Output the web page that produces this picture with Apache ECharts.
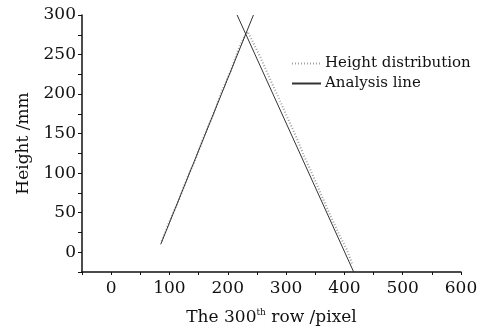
<!DOCTYPE html>
<html>
<head>
<meta charset="utf-8">
<script src="https://cdn.jsdelivr.net/npm/echarts@6/dist/echarts.min.js"></script>
<style>
  html, body { margin: 0; padding: 0; background: #fff; }
  #chart { width: 499px; height: 332px; }
</style>
</head>
<body>
<div id="chart"></div>
<script>
// Measured height profile along the 300th row (pixel, mm)
const heightDistribution = [
  [87, 14], [100, 39], [115, 64], [130, 93], [145, 118], [160, 148],
  [175, 174], [190, 204], [205, 229], [218, 256], [228, 272], [234, 279],
  [241, 269], [255, 248], [270, 223], [285, 199], [300, 174], [315, 150],
  [330, 123], [345, 99], [360, 73], [375, 48], [390, 24], [405, 2], [414, -16]
];
// Two fitted straight lines (rising flank and falling flank)
const analysisRising = [[85, 10], [244, 300]];
const analysisFalling = [[216, 300], [416, -25]];

const xTicks = { min: -50, max: 600, step: 50, labelStep: 100 };
const yTicks = { min: -25, max: 300, step: 25, labelStep: 50 };

const serif = 'DejaVu Serif';
const chart = echarts.init(document.getElementById('chart'), null, { renderer: 'canvas' });

chart.setOption({
  animation: false,
  backgroundColor: '#fff',
  grid: { left: 82, right: 38, top: 15, bottom: 60 },
  legend: {
    left: 286, top: 51, orient: 'vertical', itemGap: 5,
    itemWidth: 29, itemHeight: 10,
    itemStyle: { opacity: 0 },
    textStyle: { fontFamily: serif, fontSize: 15, color: '#111', padding: [0, 0, 0, -1] },
    data: ['Height distribution', 'Analysis line']
  },
  xAxis: {
    type: 'value', min: xTicks.min, max: xTicks.max, interval: xTicks.step,
    name: '{a|The 300}{s|th}{a| row /pixel}',
    nameLocation: 'middle', nameGap: 36,
    nameTextStyle: {
      rich: {
        a: { fontFamily: serif, fontSize: 17, color: '#111' },
        s: { fontFamily: serif, fontSize: 9, color: '#111', verticalAlign: 'top', padding: [0, 0, 10, 0] }
      }
    },
    axisLine: { onZero: false, lineStyle: { color: '#111', width: 1.5 } },
    axisTick: { length: 3, lineStyle: { color: '#111' } },
    splitLine: { show: false },
    axisLabel: {
      fontFamily: serif, fontSize: 17, color: '#111', margin: 8,
      formatter: v => (v >= 0 && v % xTicks.labelStep === 0) ? String(v) : ''
    }
  },
  yAxis: {
    type: 'value', min: yTicks.min, max: yTicks.max, interval: yTicks.step,
    name: 'Height /mm', nameLocation: 'middle', nameGap: 50, nameRotate: 90,
    nameTextStyle: { fontFamily: serif, fontSize: 17, color: '#111' },
    axisLine: { show: true, onZero: false, lineStyle: { color: '#111', width: 1.5 } },
    axisTick: { show: true, length: 4, lineStyle: { color: '#111' } },
    splitLine: { show: false },
    axisLabel: {
      fontFamily: serif, fontSize: 17, color: '#111', margin: 6,
      formatter: v => (v >= 0 && v % yTicks.labelStep === 0) ? String(v) : ''
    }
  },
  series: [
    {
      name: 'Height distribution', type: 'line', data: heightDistribution,
      symbol: 'none', smooth: false,
      lineStyle: { color: '#a0a0a0', width: 2, type: [1, 2] },
      itemStyle: { color: '#a0a0a0' }
    },
    {
      name: 'Analysis line', type: 'line', data: analysisRising,
      symbol: 'none', lineStyle: { color: '#333', width: 1 }, itemStyle: { color: '#333' }
    },
    {
      name: 'Analysis line', type: 'line', data: analysisFalling,
      symbol: 'none', lineStyle: { color: '#333', width: 1 }, itemStyle: { color: '#333' }
    }
  ]
});
</script>
</body>
</html>
